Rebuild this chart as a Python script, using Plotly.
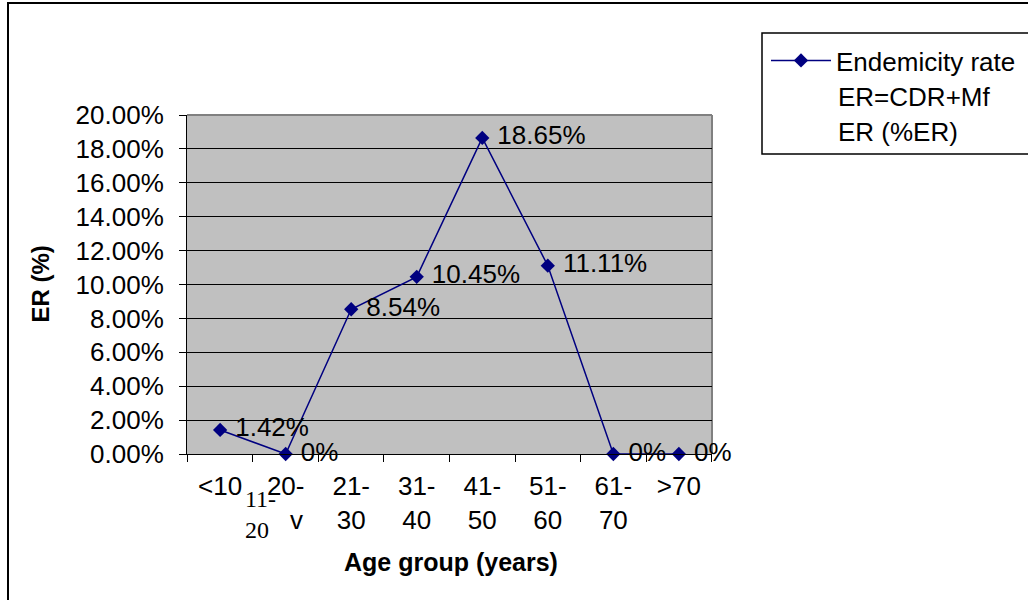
import plotly.graph_objects as go

# Age groups (tick labels) and endemicity rate per group
age_groups = ["<10", "20-<br>&nbsp;&nbsp;&nbsp;v", "21-<br>30", "31-<br>40",
              "41-<br>50", "51-<br>60", "61-<br>70", ">70"]
er_values = [0.0142, 0.0, 0.0854, 0.1045, 0.1865, 0.1111, 0.0, 0.0]
er_labels = ["1.42%", "0%", "8.54%", "10.45%", "18.65%", "11.11%", "0%", "0%"]

W, H = 1028, 600
L, R, T, B = 187, 712, 115, 454  # plot area in pixels


def px(x):
    return (x - L) / (R - L)


def py(y):
    return (B - y) / (B - T)


FONT = "Arial, Liberation Sans, sans-serif"
NAVY = "#000080"

fig = go.Figure()
fig.add_trace(go.Scatter(
    x=age_groups, y=er_values,
    text=["&nbsp;" + t for t in er_labels],
    mode="lines+markers+text", textposition="middle right",
    textfont=dict(family=FONT, size=26, color="black"),
    line=dict(color=NAVY, width=1.5),
    marker=dict(symbol="diamond", size=11, color=NAVY),
    name="Endemicity rate", cliponaxis=False,
))

fig.update_layout(
    width=W, height=H,
    margin=dict(l=L, r=W - R, t=T, b=H - B, autoexpand=False),
    paper_bgcolor="white", plot_bgcolor="#C0C0C0",
    font=dict(family=FONT, size=26, color="black"),
    showlegend=True,
    legend=dict(x=px(766), y=py(37), xanchor="left", yanchor="top",
                bgcolor="rgba(0,0,0,0)", borderwidth=0,
                font=dict(family=FONT, size=26, color="black"),
                itemwidth=60),
    xaxis=dict(type="category", tickson="boundaries", ticks="outside",
               ticklen=7, tickcolor="black", showline=True, linecolor="black",
               linewidth=1, showgrid=False, zeroline=False,
               ticklabelstandoff=9,
               tickfont=dict(family=FONT, size=26, color="black")),
    yaxis=dict(range=[0, 0.20], dtick=0.02, tickformat=".2%", ticks="outside",
               ticklen=7, tickcolor="black", showline=True, linecolor="black",
               linewidth=1, showgrid=True, gridcolor="black", gridwidth=1,
               zeroline=False, ticklabelstandoff=10,
               tickfont=dict(family=FONT, size=26, color="black")),
)

shapes = [
    # outer chart frame
    dict(type="rect", xref="paper", yref="paper", x0=px(8), x1=px(1045),
         y0=py(615), y1=py(3), line=dict(color="black", width=2),
         fillcolor="rgba(0,0,0,0)", layer="above"),
    # plot-area frame (gray top/right edge)
    dict(type="line", xref="paper", yref="paper", x0=0, x1=1, y0=1, y1=1,
         line=dict(color="#808080", width=2), layer="between"),
    dict(type="line", xref="paper", yref="paper", x0=1, x1=1, y0=0, y1=1,
         line=dict(color="#808080", width=2), layer="between"),
    # legend box
    dict(type="rect", xref="paper", yref="paper", x0=px(762), x1=px(1045),
         y0=py(154), y1=py(33), line=dict(color="black", width=1.5),
         fillcolor="rgba(0,0,0,0)", layer="above"),
]
fig.update_layout(shapes=shapes)

annotations = [
    dict(text="ER=CDR+Mf", x=px(836), y=py(97), xref="paper", yref="paper",
         xanchor="left", yanchor="middle", showarrow=False,
         font=dict(family=FONT, size=26, color="black")),
    dict(text="ER (%ER)", x=px(836), y=py(132), xref="paper", yref="paper",
         xanchor="left", yanchor="middle", showarrow=False,
         font=dict(family=FONT, size=26, color="black")),
    dict(text="11-<br>20", x=px(243), y=py(514), xref="paper", yref="paper",
         xanchor="left", yanchor="middle", align="left", showarrow=False,
         font=dict(family="Liberation Serif, Times New Roman, serif", size=24,
                   color="black")),
    dict(text="<b>Age group (years)</b>", x=px(451), y=py(562), xref="paper",
         yref="paper", xanchor="center", yanchor="middle", showarrow=False,
         font=dict(family=FONT, size=25, color="black")),
    dict(text="<b>ER (%)</b>", x=px(40), y=0.5, xref="paper", yref="paper",
         xanchor="center", yanchor="middle", textangle=-90, showarrow=False,
         font=dict(family=FONT, size=24, color="black")),
]
fig.update_layout(annotations=annotations)

fig.write_html("out.html")
